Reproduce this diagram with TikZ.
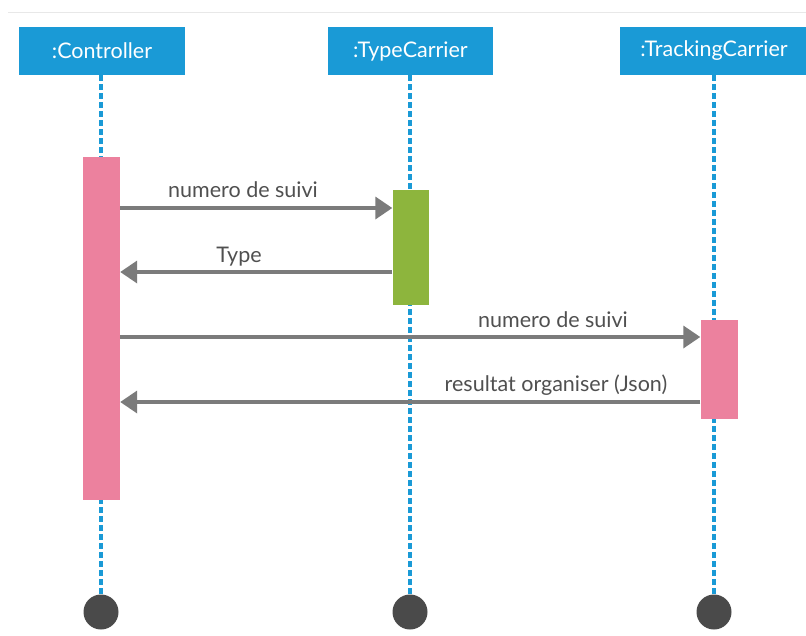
\documentclass[tikz,border=0pt]{standalone}
\usepackage{fontspec}
\setmainfont{Lato}
\usetikzlibrary{arrows.meta}
\definecolor{headblue}{HTML}{1A9AD6}
\definecolor{barpink}{HTML}{EC819E}
\definecolor{bargreen}{HTML}{8DB53D}
\definecolor{msggrey}{HTML}{7B7B7B}
\definecolor{endgrey}{HTML}{4A4A4A}
\definecolor{labelgrey}{HTML}{505050}
\definecolor{rulegrey}{HTML}{E8E8E8}
\tikzset{
  head/.style={fill=headblue, text=white, minimum height=48pt, inner sep=0pt, font=\fontsize{21.5}{24}\selectfont},
  lifeline/.style={headblue, line width=3.2pt, dash pattern=on 6pt off 3pt},
  actpink/.style={fill=barpink, draw=none, minimum width=37pt, inner sep=0pt},
  actgreen/.style={fill=bargreen, draw=none, minimum width=36pt, inner sep=0pt},
  msg/.style={msggrey, line width=3.6pt, -{Triangle[length=17pt,width=22pt]}},
  msglabel/.style={text=labelgrey, font=\fontsize{21.5}{24}\selectfont, inner sep=0pt},
  endpoint/.style={circle, fill=endgrey, minimum size=35pt, inner sep=0pt},
}
\begin{document}
\begin{tikzpicture}[x=1pt, y=-1pt]
\useasboundingbox (0,0) rectangle (806,635);
% thin rule along the top
\draw[rulegrey, line width=1pt] (8,12) -- (806,12);

% participants
\node[head, minimum width=166pt] (ctl) at (102,51) {:Controller};
\node[head, minimum width=165pt] (typ) at (410.5,51) {:TypeCarrier};
\node[head, minimum width=188pt] (trk) at (714,51) {:TrackingCarrier};

% end points of the lifelines
\node[endpoint] (ctlEnd) at (101,612) {};
\node[endpoint] (typEnd) at (410,612) {};
\node[endpoint] (trkEnd) at (714,612) {};

% lifelines
\draw[lifeline] (ctl.south -| ctlEnd) -- (ctlEnd.north);
\draw[lifeline] (typ.south -| typEnd) -- (typEnd.north);
\draw[lifeline] (trk.south -| trkEnd) -- (trkEnd.north);

% activation bars
\node[actpink, minimum height=343pt] (ctlAct) at (101.5,328.5) {};
\node[actgreen, minimum height=115pt] (typAct) at (410.5,247.5) {};
\node[actpink, minimum height=99pt] (trkAct) at (719,369.5) {};

% messages
\coordinate (m1) at (0,208);
\coordinate (m2) at (0,272);
\coordinate (m3) at (0,337);
\coordinate (m4) at (0,402);
\draw[msg] (m1 -| ctlAct.east) -- (m1 -| typAct.west);
\draw[msg] (m2 -| typAct.west) -- (m2 -| ctlAct.east);
\draw[msg] (m3 -| ctlAct.east) -- (m3 -| trkAct.west);
\draw[msg] (m4 -| trkAct.west) -- (m4 -| ctlAct.east);

\node[msglabel, anchor=base] (l1) at (243,197) {numero de suivi};
\node[msglabel, anchor=base] (l2) at (239,262) {Type};
\node[msglabel, anchor=base] (l3) at (553,327) {numero de suivi};
\node[msglabel, anchor=base] (l4) at (556,391) {resultat organiser (Json)};
\end{tikzpicture}
\end{document}
